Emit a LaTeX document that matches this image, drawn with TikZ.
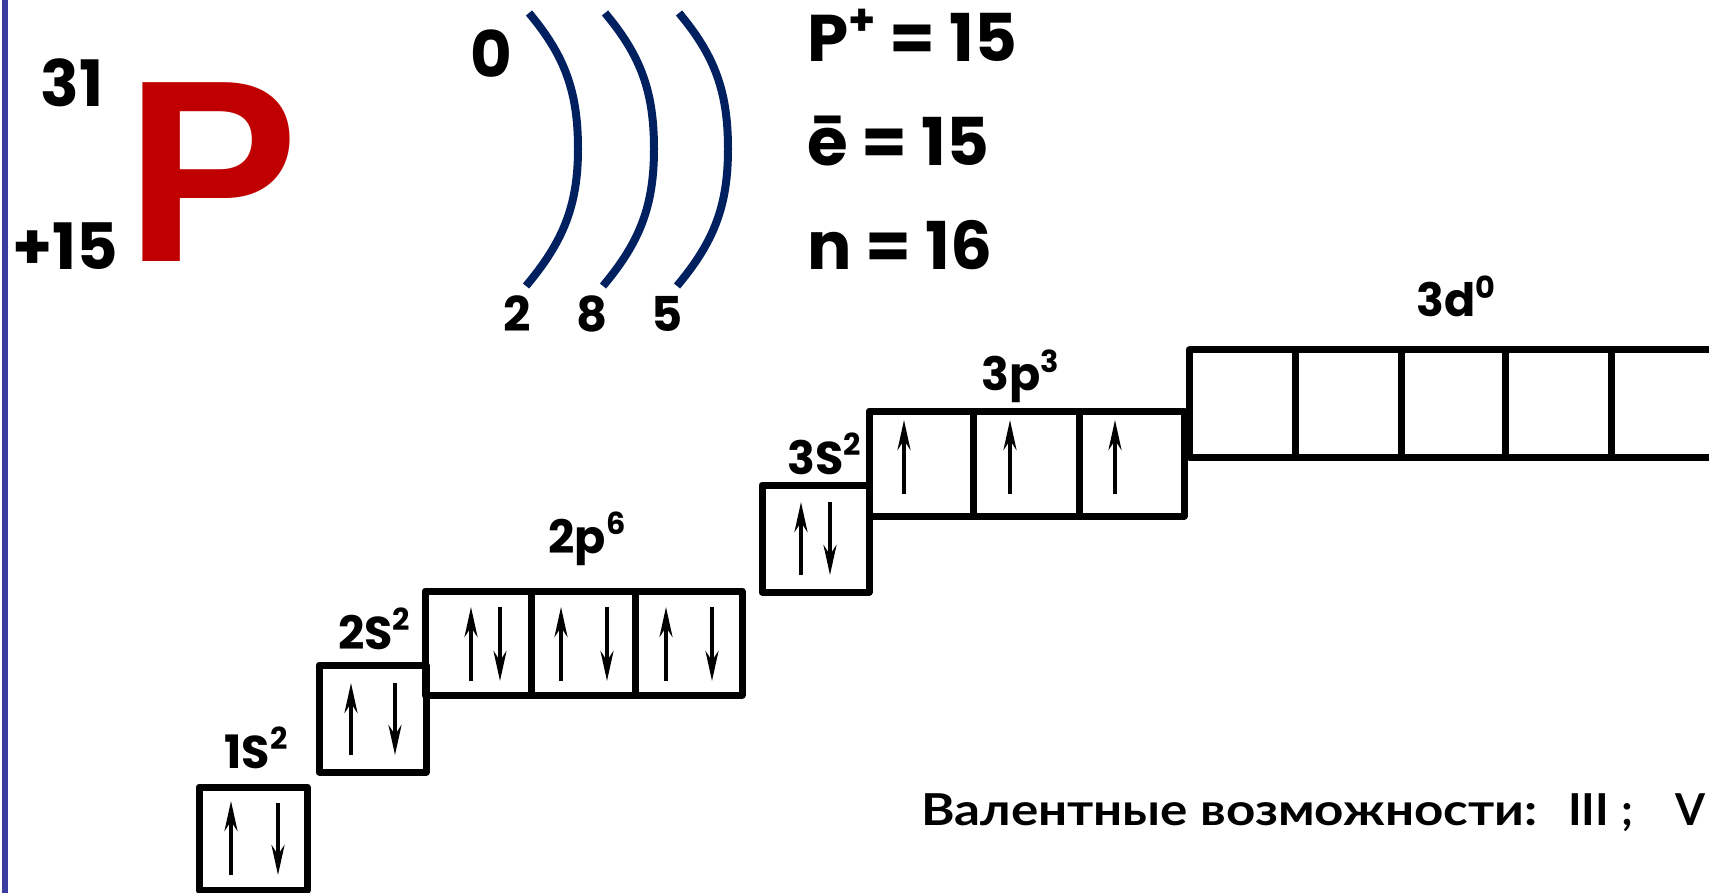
\documentclass[tikz,border=0pt]{standalone}
\usepackage{fontspec}
\setmainfont{Poppins}
\newfontfamily\cyrfont{Lato}
\newfontfamily\arialfont{Liberation Sans}
\usetikzlibrary{arrows.meta}
\definecolor{elred}{HTML}{C00000}
\definecolor{shellblue}{HTML}{002060}
\definecolor{sideline}{HTML}{3C3CA0}
\newcommand\mysup[1]{\raisebox{0.40em}{\scalebox{0.66}{#1}}}
\tikzset{
  txt/.style={inner sep=0pt, font=\bfseries\fontsize{#1}{#1}\selectfont},
  obox/.style={draw=black, line width=7pt, line join=round},
  spinup/.style={line width=4pt, -{Stealth[length=30pt,width=13pt]}},
  shell/.style={draw=shellblue, line width=8pt},
}
\begin{document}
\begin{tikzpicture}[x=1pt,y=-1pt]
\useasboundingbox (0,0) rectangle (1709,893);
% side line
\draw[sideline, line width=6pt] (5,0) -- (5,893);
% element symbol
\node[txt=64, anchor=base] (mass) at (72,107) {31};
\node[txt=64, anchor=base] (charge) at (65,270) {+15};
\node[inner sep=0pt, anchor=base west, text=elred, font=\arialfont\bfseries\fontsize{260}{260}\selectfont] (sym) at (125,262) {P};
% shells
\node[txt=64, anchor=base] (zero) at (491,78) {0};
\draw[shell] (529,13) to[out=-50,in=90] (578,149) to[out=-90,in=50] (526,286);
\draw[shell] (605,13) to[out=-50,in=90] (654,149) to[out=-90,in=50] (603,286);
\draw[shell] (679,13) to[out=-50,in=90] (728,149) to[out=-90,in=50] (677,286);
\node[txt=48, anchor=base] (e1) at (517,332) {2};
\node[txt=48, anchor=base] (e2) at (592,332) {8};
\node[txt=48, anchor=base] (e3) at (667,332) {5};
% particle counts
\node[txt=66, anchor=base west] (pp) at (807,62) {P\mysup{+} = 15};
\node[txt=66, anchor=base west] (ee) at (807,166) {ē = 15};
\node[txt=66, anchor=base west] (nn) at (807,270) {n = 16};
% orbital labels
\node[txt=46, anchor=base] (l1s) at (256,768) {1S\mysup{2}};
\node[txt=46, anchor=base] (l2s) at (374,649) {2S\mysup{2}};
\node[txt=46, anchor=base] (l2p) at (587,553) {2p\mysup{6}};
\node[txt=46, anchor=base] (l3s) at (824,474) {3S\mysup{2}};
\node[txt=46, anchor=base] (l3p) at (1020,391) {3p\mysup{3}};
\node[txt=46, anchor=base] (l3d) at (1456,317) {3d\mysup{0}};
% 1s
\draw[obox] (199,787) rectangle (307,890);
\draw[spinup] (231,875) -- (231,801);
\draw[spinup] (278,803) -- (278,875);
% 2s
\draw[obox] (319,665) rectangle (426,772);
\draw[spinup] (351,755) -- (351,683);
\draw[spinup] (395,683) -- (395,755);
% 2p
\draw[obox] (425,591) rectangle (742,695);
\draw[obox] (531,591) -- (531,695);
\draw[obox] (635,591) -- (635,695);
\draw[spinup] (471,681) -- (471,607);
\draw[spinup] (500,607) -- (500,681);
\draw[spinup] (561,681) -- (561,607);
\draw[spinup] (607,607) -- (607,681);
\draw[spinup] (666,681) -- (666,607);
\draw[spinup] (712,607) -- (712,681);
% 3s
\draw[obox] (762,485) rectangle (869,592);
\draw[spinup] (801,575) -- (801,502);
\draw[spinup] (830,502) -- (830,575);
% 3p
\draw[obox] (869,411) rectangle (1184,516);
\draw[obox] (973,411) -- (973,516);
\draw[obox] (1079,411) -- (1079,516);
\draw[spinup] (904,494) -- (904,420);
\draw[spinup] (1010,494) -- (1010,420);
\draw[spinup] (1115,494) -- (1115,420);
% 3d
\draw[obox] (1720,350) -- (1189,350) -- (1189,457) -- (1720,457);
\foreach \xx in {1295,1401,1505,1611} \draw[obox] (\xx,350) -- (\xx,457);
% valence
\node[inner sep=0pt, anchor=base west, font=\cyrfont\bfseries\fontsize{44}{44}\selectfont] (val) at (921,825) {\resizebox{616pt}{\height}{Валентные возможности:}\hspace{31pt}\resizebox{41pt}{\height}{III}\hspace{8.5pt}\makebox[20pt][c]{;}\hspace{38pt}\resizebox{30pt}{\height}{V}};
\end{tikzpicture}
\end{document}
